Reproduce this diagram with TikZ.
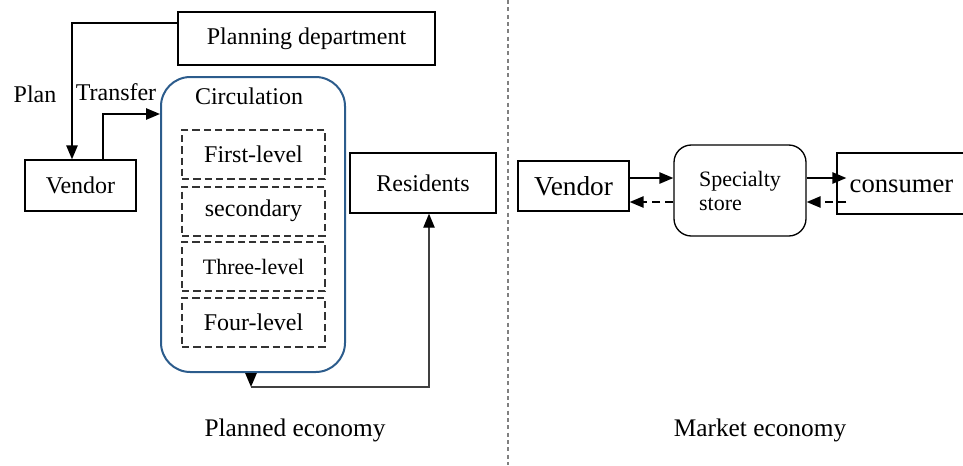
\documentclass[tikz,border=0pt]{standalone}
\usepackage{fontspec}
\setmainfont{Liberation Serif}
\usetikzlibrary{arrows.meta}
\definecolor{circblue}{RGB}{44,92,140}
\begin{document}
\begin{tikzpicture}[x=0.75pt,y=-0.75pt,
		box/.style={draw=black, line width=1pt, inner sep=0pt, font=\fontsize{18}{20}\selectfont},
		levelbox/.style={draw=black!80, dash pattern=on 5.5pt off 3pt, line width=1.5pt, minimum width=107.25pt, minimum height=36.75pt, inner sep=0pt, font=\fontsize{18}{20}\selectfont},
		txt/.style={inner sep=0pt, font=\fontsize{18}{20}\selectfont},
		arr/.style={-{Triangle[length=10.5pt,width=8.5pt]}, line width=1.3pt}]
		\useasboundingbox (0,0) rectangle (963,465);
		% planned economy
		\node[box, minimum width=192.75pt, minimum height=39.75pt](planning) at (306.5,38.5){Planning department};
		\node[box, minimum width=83.25pt, minimum height=38.25pt](vendorL) at (80.5,185.5){Vendor};
		\node[draw=circblue, line width=1.5pt, rounded corners=22pt, minimum width=138pt, minimum height=221.25pt](circ) at (253,224.5){};
		\node[txt](circtitle) at (249,96){Circulation};
		\node[levelbox](first) at (253.5,154.5){First-level};
		\node[levelbox](second) at (253.5,211){secondary};
		\node[levelbox, font=\fontsize{16.5}{18}\selectfont](third) at (253.5,266.5){Three-level};
		\node[levelbox](fourth) at (253.5,322){Four-level};
		\node[box, minimum width=109.5pt, minimum height=45pt](residents) at (423,183){Residents};
		\node[txt](plan) at (35,94){Plan};
		\node[txt](transfer) at (116,92){Transfer};
		\coordinate (planbend) at (72,23);
		\coordinate (transferbend) at (103,114);
		\coordinate (outbend) at (251,387);
		\coordinate (resin) at (429,0);
		\draw[arr] (planning.west |- planbend) -| (vendorL.north -| planbend);
		\draw[arr] (vendorL.north -| transferbend) |- (circ.west |- transferbend);
		\draw[arr] (circ.south -| outbend) -- (outbend);
		\draw[-{Triangle[length=10.5pt,width=8.5pt,black]}, line width=1pt, draw=black!75] (outbend) -| (residents.south -| resin);
		% divider
		\coordinate (divtop) at (508,0);
		\coordinate (divbtm) at (508,465);
		\draw[gray, line width=0.8pt, dash pattern=on 3pt off 2.5pt] (divtop) -- (divbtm);
		% market economy
		\node[box, minimum width=83.25pt, minimum height=37.5pt, font=\fontsize{20.5}{22}\selectfont](vendorR) at (573.5,186){Vendor};
		\node[box, rounded corners=13pt, minimum width=99pt, minimum height=68.25pt, align=left, font=\fontsize{16.5}{18}\selectfont](store) at (740,190.5){Specialty\\store};
		\node[box, minimum width=96.75pt, minimum height=45.75pt, text height=13pt, text depth=0pt, font=\fontsize{20}{22}\selectfont](consumer) at (901.5,183.5){consumer};
		\coordinate (fwd) at (0,178);
		\coordinate (back) at (0,202);
		\draw[arr] (vendorR.east |- fwd) -- (store.west |- fwd);
		\draw[arr, dash pattern=on 6pt off 4pt] (store.west |- back) -- (vendorR.east |- back);
		\draw[arr, shorten >=-7.5pt] (store.east |- fwd) -- (consumer.west |- fwd);
		\draw[arr, dash pattern=on 6pt off 4pt, shorten <=-7.5pt] (consumer.west |- back) -- (store.east |- back);
		% captions
		\node[txt, font=\fontsize{19}{21}\selectfont](plannedcap) at (295,430){Planned economy};
		\node[txt, font=\fontsize{19}{21}\selectfont](marketcap) at (760,430){Market economy};
	\end{tikzpicture}
\end{document}
